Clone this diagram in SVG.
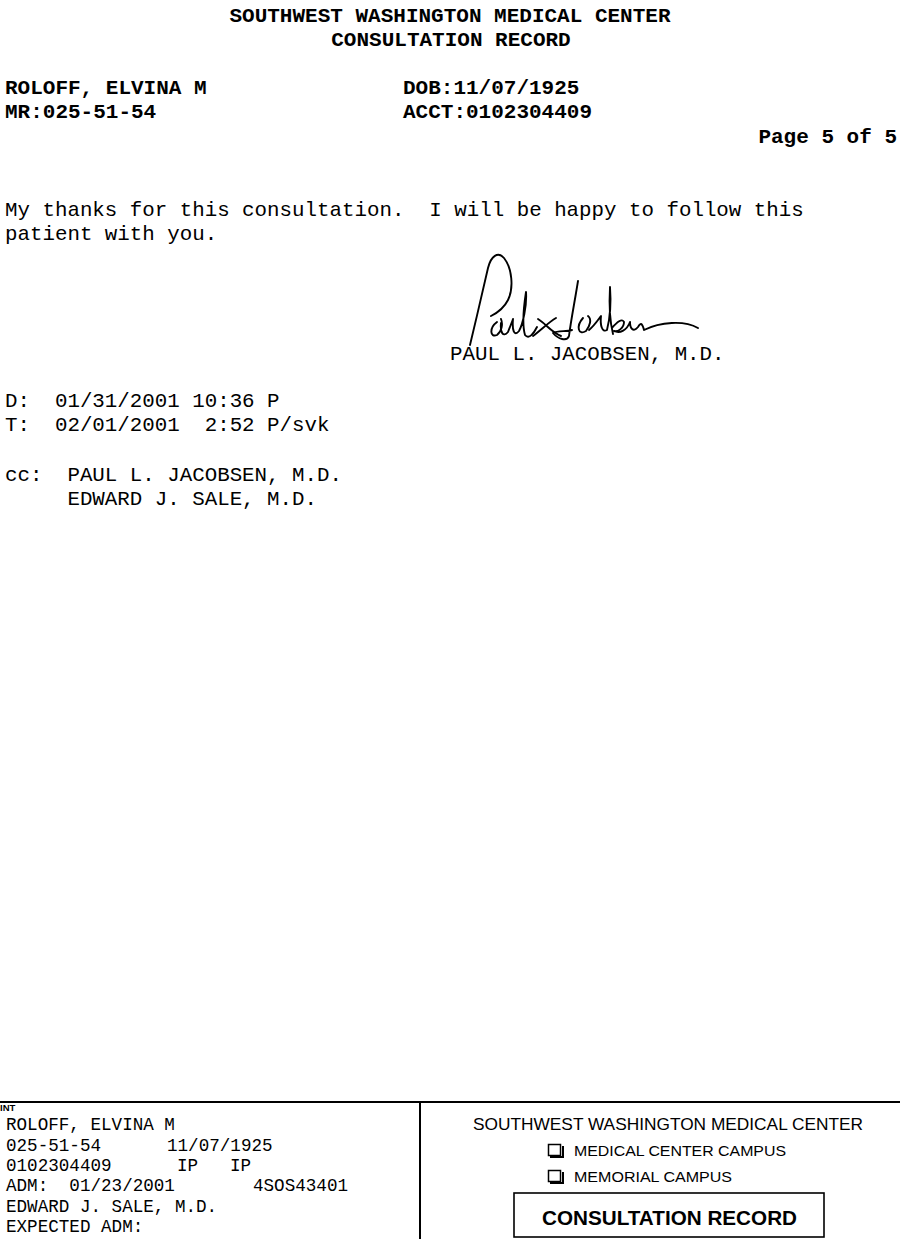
<svg xmlns="http://www.w3.org/2000/svg" width="900" height="1239" viewBox="0 0 900 1239">
<style>
.mono{font-family:"Liberation Mono","Courier New",monospace;fill:#000;}
.hb{font-size:21px;font-weight:bold;}
.bd{font-size:20.8px;}
.sm{font-size:17.6px;}
.sans{font-family:"Liberation Sans",Arial,sans-serif;fill:#000;}
.rule{stroke:#000;stroke-width:2;fill:none;}
.sig{stroke:#000;stroke-width:1.9;fill:none;stroke-linecap:round;stroke-linejoin:round;}
</style>
<rect width="900" height="1239" fill="#fff"/>
<g id="header">
<text class="mono hb" x="450" y="22" text-anchor="middle">SOUTHWEST WASHINGTON MEDICAL CENTER</text>
<text class="mono hb" x="451" y="46" text-anchor="middle">CONSULTATION RECORD</text>
<text class="mono hb" x="5" y="94">ROLOFF, ELVINA M</text>
<text class="mono hb" x="5" y="118">MR:025-51-54</text>
<text class="mono hb" x="403" y="94">DOB:11/07/1925</text>
<text class="mono hb" x="403" y="118">ACCT:0102304409</text>
<text class="mono hb" x="897" y="143" text-anchor="end">Page 5 of 5</text>
</g>
<g id="body">
<text class="mono bd" x="5" y="216" xml:space="preserve">My thanks for this consultation.  I will be happy to follow this</text>
<text class="mono bd" x="5" y="240">patient with you.</text>
</g>
<g id="signature">
<path class="sig" d="M470,345 C476,320 483,290 488,268 C491,256 498,251 504,258 C512,268 514,288 508,300 C504,308 497,313 491,316"/>
<path class="sig" d="M497,322 C489,328 490,338 497,335 C502,331 503,324 501,319 M501,323 C500,332 503,338 508,332 C510,327 512,322 513,319 C512,330 514,337 519,331 C523,324 527,305 526,292 C524,305 522,325 525,335 C529,340 534,333 537,327"/>
<path class="sig" d="M533,336 C541,330 549,322 556,318 M538,319 C546,324 551,332 561,336"/>
<path class="sig" d="M578,281 C575,300 571,320 569,336 C567,342 558,339 553,333 C558,330 566,332 572,330"/>
<path class="sig" d="M583,318 C576,326 578,336 586,331 C590,326 592,319 588,316 M589,330 C594,326 598,320 601,316 C600,325 602,333 607,330 C610,318 611,300 610,287 C609,305 610,322 613,334 M612,328 C617,322 622,318 624,322 C624,328 618,332 614,331 C620,334 627,330 630,322 C630,328 633,333 638,327 C640,323 642,322 644,330 C660,322 684,320 698,328"/>
<text class="mono bd" x="450" y="360">PAUL L. JACOBSEN, M.D.</text>
</g>
<g id="dictation">
<text class="mono bd" x="5" y="407" xml:space="preserve">D:  01/31/2001 10:36 P</text>
<text class="mono bd" x="5" y="431" xml:space="preserve">T:  02/01/2001  2:52 P/svk</text>
<text class="mono bd" x="5" y="481" xml:space="preserve">cc:  PAUL L. JACOBSEN, M.D.</text>
<text class="mono bd" x="5" y="505" xml:space="preserve">     EDWARD J. SALE, M.D.</text>
</g>
<g id="footer">
<line class="rule" x1="0" y1="1102" x2="900" y2="1102"/>
<line class="rule" x1="420" y1="1102" x2="420" y2="1239"/>
</g>
<g id="patient-label">
<text class="sans" x="0" y="1111" font-size="9.5" font-weight="bold">INT</text>
<text class="mono sm" x="6" y="1130">ROLOFF, ELVINA M</text>
<text class="mono sm" x="6" y="1150.5">025-51-54</text>
<text class="mono sm" x="167" y="1150.5">11/07/1925</text>
<text class="mono sm" x="6" y="1171">0102304409</text>
<text class="mono sm" x="177" y="1171">IP</text>
<text class="mono sm" x="230" y="1171">IP</text>
<text class="mono sm" x="6" y="1191" xml:space="preserve">ADM:  01/23/2001</text>
<text class="mono sm" x="253" y="1191">4SOS43401</text>
<text class="mono sm" x="6" y="1211.5">EDWARD J. SALE, M.D.</text>
<text class="mono sm" x="6" y="1232">EXPECTED ADM:</text>
</g>
<g id="campus-panel">
<text class="sans" x="473" y="1130" font-size="17" textLength="390" lengthAdjust="spacingAndGlyphs">SOUTHWEST WASHINGTON MEDICAL CENTER</text>
<rect x="548.5" y="1144.5" width="12" height="11" fill="none" stroke="#000" stroke-width="1.5"/>
<path d="M550,1157 L563,1157 L563,1146" fill="none" stroke="#000" stroke-width="2"/>
<text class="sans" x="574" y="1156" font-size="15.5" textLength="212" lengthAdjust="spacingAndGlyphs">MEDICAL CENTER CAMPUS</text>
<rect x="548.5" y="1170.5" width="12" height="11" fill="none" stroke="#000" stroke-width="1.5"/>
<path d="M550,1183 L563,1183 L563,1172" fill="none" stroke="#000" stroke-width="2"/>
<text class="sans" x="574" y="1182" font-size="15.5" textLength="158" lengthAdjust="spacingAndGlyphs">MEMORIAL CAMPUS</text>
</g>
<g id="record-box">
<rect x="514" y="1193" width="310" height="44" fill="none" stroke="#000" stroke-width="1.6"/>
<text class="sans" x="542" y="1225" font-size="21" font-weight="bold" textLength="255" lengthAdjust="spacingAndGlyphs">CONSULTATION RECORD</text>
</g>
</svg>
